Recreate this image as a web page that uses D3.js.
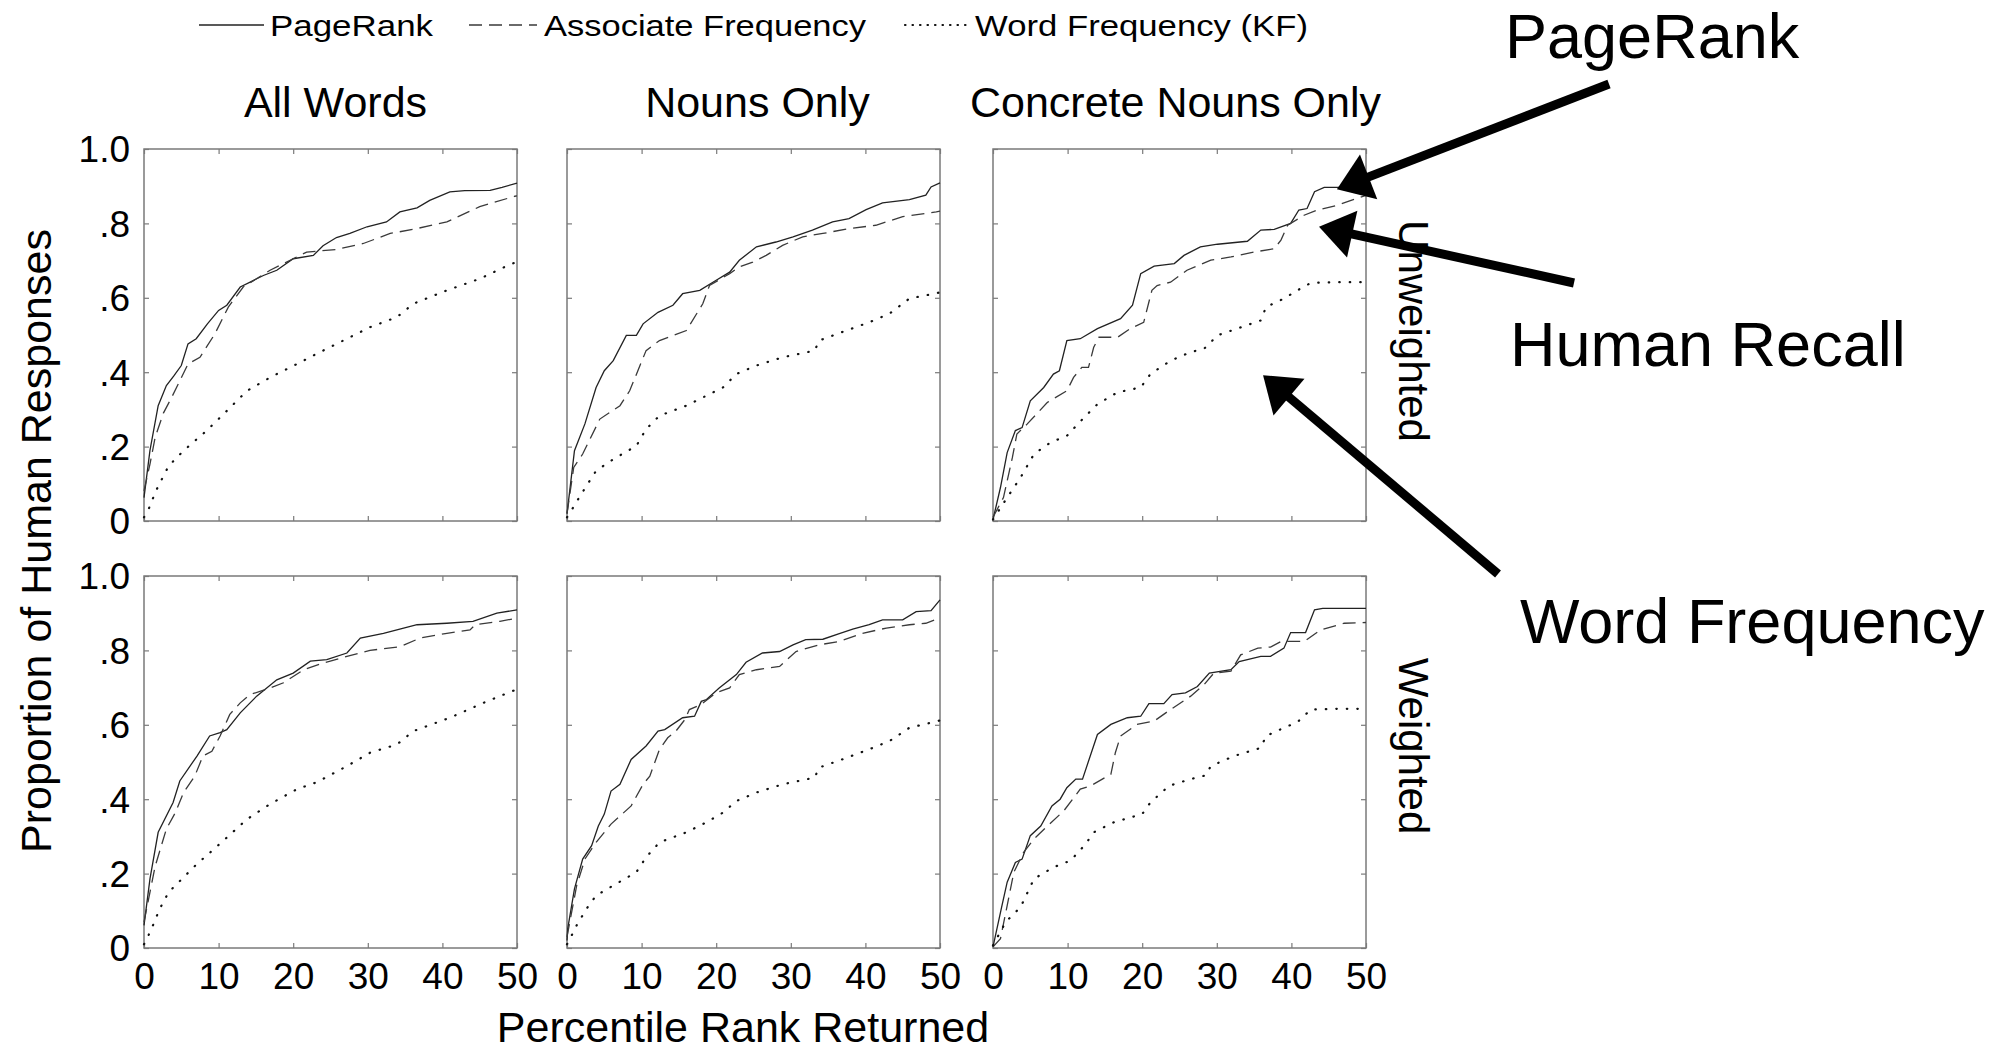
<!DOCTYPE html>
<html>
<head>
<meta charset="utf-8">
<script src="https://cdn.jsdelivr.net/npm/d3@7"></script>
<style>
  body { margin: 0; background: #fff; }
  svg { display: block; font-family: "Liberation Sans", Arial, Helvetica, sans-serif; }
</style>
</head>
<body>
<script>
// ---- data: [percentile rank, proportion] ----
var columnTitles = ["All Words", "Nouns Only", "Concrete Nouns Only"];
var rowTitles = ["Unweighted", "Weighted"];
var seriesNames = ["PageRank", "Associate Frequency", "Word Frequency (KF)"];
var xTicks = [0, 10, 20, 30, 40, 50];
var yTicks = [0, 0.2, 0.4, 0.6, 0.8, 1.0];
var yTickLabels = ["0", ".2", ".4", ".6", ".8", "1.0"];

// All Words, unweighted
var allUnwPR = [[0,.063],[0.8,.19],[1.9,.31],[3,.364],[4,.39],[5,.418],[5.9,.476],[7,.49],[8.5,.53],[10,.566],[11.1,.58],[12.9,.629],[14.5,.645],[16,.66],[17.8,.674],[20,.705],[22.7,.714],[24,.74],[25.8,.762],[27.6,.773],[29.9,.791],[32.5,.804],[34.3,.831],[36.6,.842],[38.3,.862],[41,.885],[43,.888],[46.4,.889],[48,.897],[50,.908]];
var allUnwAF = [[0,.081],[0.8,.153],[1.5,.225],[2.6,.29],[3.7,.332],[5.9,.422],[7.5,.44],[9.5,.503],[11.3,.575],[13.3,.629],[16.9,.674],[20,.705],[21.8,.723],[25.8,.73],[29.4,.746],[33,.773],[36.1,.784],[40.6,.804],[45,.845],[49.7,.873],[50,.874]];
var allUnwKF = [[0,.01],[0.6,.031],[1.6,.081],[3.3,.148],[5.3,.189],[8.4,.243],[11.1,.296],[13.8,.35],[16.9,.386],[20.5,.422],[23.1,.449],[27.2,.49],[30.3,.521],[33.9,.548],[36.1,.584],[40.6,.62],[45,.651],[49.3,.692],[50,.695]];

// Nouns only, unweighted
var nounUnwPR = [[0,.02],[0.1,.036],[1,.189],[2.4,.261],[3.9,.359],[5,.404],[6.2,.431],[7.95,.499],[9.3,.499],[10.2,.53],[12.2,.561],[14.2,.58],[15.5,.611],[17.8,.62],[20,.647],[21.8,.669],[23.1,.701],[25.4,.737],[28,.75],[30.3,.764],[32.9,.782],[35.6,.804],[37.8,.813],[40.1,.837],[42.3,.855],[45.9,.864],[48.1,.876],[48.8,.898],[50,.909]];
var nounUnwAF = [[0,.02],[0.9,.144],[2.1,.18],[4.4,.274],[7.1,.31],[8.4,.35],[10.6,.458],[12.4,.485],[16,.512],[18.2,.584],[19.1,.633],[21.8,.665],[23.1,.683],[24.9,.696],[26.7,.714],[28.9,.741],[31.6,.764],[34.3,.773],[37.8,.786],[41.4,.795],[45,.818],[49.5,.831],[50,.833]];
var nounUnwKF = [[0,.01],[0.4,.022],[1.9,.072],[3.9,.135],[6.2,.166],[9.3,.202],[10.6,.247],[12.4,.283],[16,.31],[18.7,.337],[20.9,.359],[22.7,.395],[25.4,.418],[28.9,.44],[33.2,.458],[33.8,.485],[36.9,.508],[40.5,.534],[43.2,.557],[45.9,.598],[49.7,.613],[50,.615]];

// Concrete nouns only, unweighted
var concUnwPR = [[0,.004],[1,.09],[1.9,.184],[3,.243],[3.9,.251],[5,.323],[6.8,.359],[8.1,.395],[8.9,.404],[9.9,.485],[11.7,.49],[14,.517],[17.1,.544],[18.7,.58],[19.8,.665],[21.6,.685],[24.3,.692],[25.6,.714],[27.8,.737],[30.1,.744],[34.1,.752],[35.9,.782],[37.7,.784],[39.9,.8],[41,.836],[42.1,.84],[43.1,.885],[44.4,.897],[46.2,.897],[50,.9]];
var concUnwAF = [[0,.01],[1.4,.063],[2.6,.171],[3.2,.234],[4.6,.261],[7.3,.319],[9.9,.35],[10.8,.386],[11.9,.413],[12.8,.413],[13.5,.467],[14.2,.494],[16.7,.494],[18.4,.517],[20.2,.534],[21.3,.62],[22,.633],[23.8,.642],[26,.674],[29.2,.701],[31.9,.71],[35,.723],[37.7,.732],[38.6,.755],[39.5,.795],[41.7,.822],[43.5,.836],[46.2,.849],[48,.862],[50,.875]];
var concUnwKF = [[0,.004],[1.9,.063],[3.7,.117],[5.5,.18],[7.7,.211],[9.9,.229],[12.2,.278],[14,.314],[16.7,.346],[19.8,.359],[21.1,.395],[23.8,.431],[26.5,.454],[28.3,.463],[30.1,.499],[32.7,.517],[35.9,.539],[36.6,.575],[39,.598],[40.8,.62],[42.6,.64],[46.2,.642],[50,.642]];

// All Words, weighted
var allWPR = [[0,.061],[0.8,.186],[1.9,.311],[3.9,.391],[4.8,.449],[7.1,.516],[8.8,.57],[10.2,.579],[11.1,.587],[12.9,.632],[15.1,.677],[17.8,.721],[20,.739],[22.3,.771],[24.5,.775],[27.2,.793],[29,.833],[32.1,.846],[34.8,.86],[36.6,.869],[40.6,.873],[44.1,.878],[47.3,.9],[50,.909]];
var allWAF = [[0,.07],[1.5,.22],[3,.32],[4.2,.364],[5.3,.418],[6.8,.462],[7.9,.516],[9.1,.529],[10.2,.57],[11.5,.628],[12.9,.659],[14.2,.681],[16.9,.699],[18.7,.713],[21.4,.748],[24,.766],[27.2,.784],[30.3,.8],[34.3,.81],[37,.833],[40.6,.846],[43.7,.855],[44.4,.869],[47.7,.878],[50,.887]];
var allWKF = [[0,.01],[0.6,.034],[1.2,.061],[2.1,.105],[3.3,.15],[5.3,.19],[7.1,.226],[9.1,.261],[11.1,.297],[13.8,.346],[16.9,.387],[20.5,.427],[23.1,.445],[27.2,.489],[30.3,.525],[33.9,.547],[36.1,.583],[41,.619],[45.5,.659],[49.3,.69],[50,.695]];

// Nouns only, weighted
var nounWPR = [[0,.02],[0.1,.052],[1,.159],[2.1,.239],[3.3,.275],[4.2,.328],[5,.36],[5.9,.422],[7.1,.44],[8.6,.507],[10.6,.543],[12.2,.583],[13.1,.587],[15.5,.619],[17.1,.623],[18,.663],[18.7,.668],[20.4,.699],[22.7,.735],[24,.768],[26.2,.793],[28.5,.797],[30.3,.815],[32,.829],[34.3,.83],[36.5,.845],[38.3,.857],[40.5,.869],[42.3,.882],[45,.882],[46.8,.904],[48.8,.907],[50,.936]];
var nounWAF = [[0,.03],[1.3,.168],[2.4,.239],[3.9,.284],[5.9,.333],[8.6,.382],[10.2,.44],[11.1,.462],[12.4,.534],[13.5,.565],[14.6,.583],[15.8,.614],[16.4,.641],[18,.655],[20,.686],[21.8,.699],[23.1,.735],[25.4,.748],[28.5,.757],[30.7,.797],[33.8,.815],[36.5,.824],[39.6,.846],[42.8,.86],[45.9,.869],[48.1,.873],[50,.887]];
var nounWKF = [[0,.01],[0.4,.025],[1.3,.061],[2.6,.105],[3.9,.141],[6.2,.168],[9.3,.204],[10.6,.244],[12.4,.284],[16,.311],[18.7,.338],[20.9,.364],[22.7,.395],[25.4,.418],[28.9,.44],[33.2,.458],[33.8,.485],[36.9,.507],[40.5,.534],[43.2,.556],[45.9,.592],[49.7,.61],[50,.612]];

// Concrete nouns only, weighted
var concWPR = [[0,.003],[1.2,.114],[1.9,.177],[3,.23],[3.9,.239],[5,.302],[6.4,.328],[7.9,.382],[9,.4],[9.9,.431],[11.1,.454],[12,.454],[14,.574],[15.8,.601],[18,.619],[19.8,.623],[20.9,.657],[22.9,.657],[24,.681],[25.8,.686],[27.4,.703],[29,.739],[31.9,.748],[33,.77],[35.9,.784],[37.2,.784],[39,.806],[39.9,.848],[41.9,.848],[43.1,.909],[44.2,.913],[50,.913]];
var concWAF = [[0,.003],[1,.025],[1.9,.114],[2.8,.204],[4.1,.257],[5.5,.293],[7.3,.328],[9.5,.369],[11.7,.427],[13.1,.436],[15.8,.467],[16.4,.525],[17.1,.57],[19.3,.601],[21.6,.61],[23.8,.641],[26.5,.677],[28.3,.708],[29.6,.739],[31.9,.744],[33.2,.788],[35.5,.806],[37.2,.809],[38.6,.824],[41.7,.824],[43.9,.855],[47.1,.873],[50,.875]];
var concWKF = [[0,.007],[1.7,.07],[3.7,.11],[5.5,.186],[8.1,.217],[10.4,.235],[12.4,.279],[13.5,.311],[16.2,.338],[20,.36],[21.1,.391],[23.6,.436],[26.5,.454],[28.5,.464],[29.2,.489],[32.3,.516],[35.9,.538],[36.6,.57],[39,.592],[40.8,.607],[42.6,.641],[46.2,.643],[50,.643]];

// callouts on the top-right panel: label and the point (data units) each arrow hits
var calloutLabels = ["PageRank", "Human Recall", "Word Frequency"];
var calloutTips = [[46.1, .892], [43.7, .791], [36.2, .392]];

// ---- layout ----
var width = 2016, height = 1053;
var panelLeft = [144, 567, 993],
    panelTop = [149, 576],
    panelW = 373,
    panelH = 372;

var panels = [
  {row: 0, col: 0, series: [allUnwPR, allUnwAF, allUnwKF]},
  {row: 0, col: 1, series: [nounUnwPR, nounUnwAF, nounUnwKF]},
  {row: 0, col: 2, series: [concUnwPR, concUnwAF, concUnwKF]},
  {row: 1, col: 0, series: [allWPR, allWAF, allWKF]},
  {row: 1, col: 1, series: [nounWPR, nounWAF, nounWKF]},
  {row: 1, col: 2, series: [concWPR, concWAF, concWKF]}
];

var styles = [
  {stroke: "#222", width: 1.3, dash: null, cap: "butt"},
  {stroke: "#3a3a3a", width: 1.3, dash: "13,7", cap: "butt"},
  {stroke: "#111", width: 2.2, dash: "0.5,10", cap: "round"}
];

var x = d3.scaleLinear().domain([0, 50]).range([0, panelW]);
var y = d3.scaleLinear().domain([0, 1]).range([panelH, 0]);

var line = d3.line()
    .x(function(d) { return x(d[0]); })
    .y(function(d) { return y(d[1]); });

var svg = d3.select("body").append("svg")
    .attr("width", width)
    .attr("height", height);

svg.append("rect").attr("width", width).attr("height", height).attr("fill", "#fff");

var g = svg.selectAll(".panel")
    .data(panels)
  .enter().append("g")
    .attr("class", "panel")
    .attr("transform", function(d) { return "translate(" + panelLeft[d.col] + "," + panelTop[d.row] + ")"; });

g.append("rect")
    .attr("width", panelW)
    .attr("height", panelH)
    .attr("fill", "none")
    .attr("stroke", "#7a7a7a")
    .attr("stroke-width", 1.5);

// inward ticks on all four sides, labels only on the outer panels
g.each(function(p) {
  var sel = d3.select(this);

  var bottom = sel.append("g").attr("transform", "translate(0," + panelH + ")")
      .call(d3.axisBottom(x).tickValues(xTicks).tickSizeInner(-5).tickSizeOuter(0)
        .tickFormat(function(v) { return p.row === 1 ? v : ""; }));
  bottom.selectAll("text").attr("y", 15).attr("dy", "0.71em");

  sel.append("g")
      .call(d3.axisTop(x).tickValues(xTicks).tickSizeInner(-5).tickSizeOuter(0).tickFormat(""));

  var left = sel.append("g")
      .call(d3.axisLeft(y).tickValues(yTicks).tickSizeInner(-5).tickSizeOuter(0)
        .tickFormat(function(v, i) { return p.col === 0 ? yTickLabels[i] : ""; }));
  left.selectAll("text").attr("x", -14).attr("dy", "0.35em");

  sel.append("g").attr("transform", "translate(" + panelW + ",0)")
      .call(d3.axisRight(y).tickValues(yTicks).tickSizeInner(-5).tickSizeOuter(0).tickFormat(""));

  sel.selectAll(".domain").remove();
  sel.selectAll(".tick line").attr("stroke", "#7a7a7a").attr("stroke-width", 1.2);
  sel.selectAll(".tick text")
      .attr("fill", "#000")
      .style("font-family", "'Liberation Sans', Arial, sans-serif")
      .style("font-size", "37px");

  sel.selectAll(".series")
      .data(p.series)
    .enter().append("path")
      .attr("class", "series")
      .attr("d", line)
      .attr("fill", "none")
      .attr("stroke", function(d, i) { return styles[i].stroke; })
      .attr("stroke-width", function(d, i) { return styles[i].width; })
      .attr("stroke-dasharray", function(d, i) { return styles[i].dash; })
      .attr("stroke-linecap", function(d, i) { return styles[i].cap; });
});

// column titles
svg.selectAll(".coltitle")
    .data(columnTitles)
  .enter().append("text")
    .attr("class", "coltitle")
    .attr("x", function(d, i) { return panelLeft[i] + panelW / 2 + [5, 4, -4][i]; })
    .attr("y", 117)
    .attr("text-anchor", "middle")
    .style("font-size", "43px")
    .text(function(d) { return d; });

// row titles on the right, reading downwards
svg.selectAll(".rowtitle")
    .data(rowTitles)
  .enter().append("text")
    .attr("class", "rowtitle")
    .attr("transform", function(d, i) {
      var cy = [331, 746][i];
      return "translate(1399," + cy + ") rotate(90)";
    })
    .attr("text-anchor", "middle")
    .style("font-size", "42px")
    .text(function(d) { return d; });

// axis titles
svg.append("text")
    .attr("transform", "translate(51,541) rotate(-90)")
    .attr("text-anchor", "middle")
    .style("font-size", "43px")
    .text("Proportion of Human Responses");

svg.append("text")
    .attr("x", 743)
    .attr("y", 1042)
    .attr("text-anchor", "middle")
    .style("font-size", "43px")
    .text("Percentile Rank Returned");

// legend
var legendLineX = [[199, 264], [469, 537], [905, 970]];
var legendTextX = [270, 544, 975];
var legendTextW = [163, 322, 333];
var legend = svg.selectAll(".legend")
    .data(seriesNames)
  .enter().append("g")
    .attr("class", "legend");
legend.append("line")
    .attr("x1", function(d, i) { return legendLineX[i][0]; })
    .attr("x2", function(d, i) { return legendLineX[i][1]; })
    .attr("y1", 25).attr("y2", 25)
    .attr("stroke", function(d, i) { return styles[i].stroke; })
    .attr("stroke-width", function(d, i) { return styles[i].width; })
    .attr("stroke-dasharray", function(d, i) { return i === 2 ? "0.5,7" : styles[i].dash; })
    .attr("stroke-linecap", function(d, i) { return styles[i].cap; });
legend.append("text")
    .attr("x", function(d, i) { return legendTextX[i]; })
    .attr("y", 36)
    .attr("textLength", function(d, i) { return legendTextW[i]; })
    .attr("lengthAdjust", "spacingAndGlyphs")
    .style("font-size", "29px")
    .text(function(d) { return d; });

// callouts with arrows pointing into the top-right panel
var calloutText = [[1505, 58], [1510, 366], [1520, 643]];
var calloutTails = [[1609, 84], [1574, 283], [1498, 574]];
var cx0 = panelLeft[2], cy0 = panelTop[0];

calloutLabels.forEach(function(label, i) {
  var tip = [cx0 + x(calloutTips[i][0]), cy0 + y(calloutTips[i][1])];
  var tail = calloutTails[i];
  var dx = tip[0] - tail[0], dy = tip[1] - tail[1];
  var len = Math.sqrt(dx * dx + dy * dy);
  var ux = dx / len, uy = dy / len;
  var headLen = 34, headHalf = 24;
  var base = [tip[0] - ux * headLen, tip[1] - uy * headLen];

  svg.append("line")
      .attr("x1", tail[0]).attr("y1", tail[1])
      .attr("x2", base[0] + ux * 2).attr("y2", base[1] + uy * 2)
      .attr("stroke", "#000")
      .attr("stroke-width", 9);

  svg.append("path")
      .attr("d", "M" + tip[0] + "," + tip[1] +
        "L" + (base[0] - uy * headHalf) + "," + (base[1] + ux * headHalf) +
        "L" + (base[0] + uy * headHalf) + "," + (base[1] - ux * headHalf) + "Z")
      .attr("fill", "#000");

  svg.append("text")
      .attr("x", calloutText[i][0])
      .attr("y", calloutText[i][1])
      .style("font-size", "63px")
      .text(label);
});
</script>
</body>
</html>
